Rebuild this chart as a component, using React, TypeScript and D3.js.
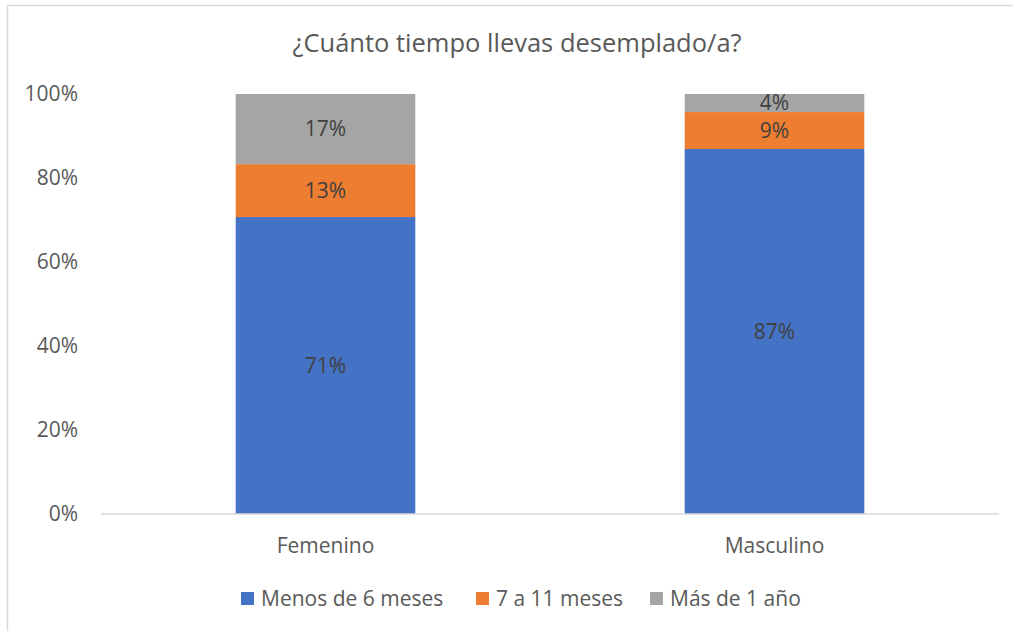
import React from 'react';
import * as d3 from 'd3';

const categories = ['Femenino', 'Masculino'];
const seriesNames = ['Menos de 6 meses', '7 a 11 meses', 'Más de 1 año'];
const menos6 = [0.707, 0.869];
const de7a11 = [0.126, 0.088];
const mas1 = [0.167, 0.043];
const yTicks = [0, 0.2, 0.4, 0.6, 0.8, 1];
const colors = ['#4472c4', '#ed7d31', '#a5a5a5'];

const W = 1013;
const H = 631;
const FONT = '"Open Sans", "Noto Sans", sans-serif';

export default function App() {
  const x = d3.scaleBand().domain(categories).range([101, 999]).paddingInner(0.6).paddingOuter(0.3);
  const y = d3.scaleLinear().domain([0, 1]).range([514, 94]);
  const pct = d3.format('.0%');

  const rows = categories.map((c, i) => ({ cat: c, s0: menos6[i], s1: de7a11[i], s2: mas1[i] }));
  const stacked = d3.stack<any>().keys(['s0', 's1', 's2'])(rows);

  // legend layout
  const legendX = [241, 476, 650];

  return (
    <svg width={W} height={H} style={{ position: 'absolute', left: 0, top: 0, background: '#fff' }} fontFamily={FONT}>
      <rect x={7.5} y={5.5} width={1100} height={700} fill="#fff" stroke="#d9d9d9" strokeWidth={1.5} />
      <text x={517} y={52} textAnchor="middle" fontSize={25.5} fill="#595959">
        ¿Cuánto tiempo llevas desemplado/a?
      </text>

      {yTicks.map((t) => (
        <text key={t} x={78} y={y(t)} dy="0.35em" textAnchor="end" fontSize={21} fill="#595959">
          {pct(t)}
        </text>
      ))}

      {stacked.map((layer, li) =>
        layer.map((d, i) => (
          <g key={`${li}-${i}`}>
            <rect
              x={x(categories[i])!}
              y={y(d[1])}
              width={x.bandwidth()}
              height={y(d[0]) - y(d[1])}
              fill={colors[li]}
            />
            <text
              x={x(categories[i])! + x.bandwidth() / 2}
              y={(y(d[0]) + y(d[1])) / 2}
              dy="0.35em"
              textAnchor="middle"
              fontSize={21}
              fill="#404040"
            >
              {pct(d[1] - d[0])}
            </text>
          </g>
        ))
      )}

      <line x1={101} x2={999} y1={514} y2={514} stroke="#d9d9d9" strokeWidth={1.5} />

      {categories.map((c) => (
        <text key={c} x={x(c)! + x.bandwidth() / 2} y={546} dy="0.35em" textAnchor="middle" fontSize={21} fill="#595959">
          {c}
        </text>
      ))}

      {seriesNames.map((s, i) => (
        <g key={s}>
          <rect x={legendX[i]} y={592} width={13} height={13} fill={colors[i]} />
          <text x={legendX[i] + 20} y={598.5} dy="0.35em" fontSize={21} fill="#595959">
            {s}
          </text>
        </g>
      ))}
    </svg>
  );
}
